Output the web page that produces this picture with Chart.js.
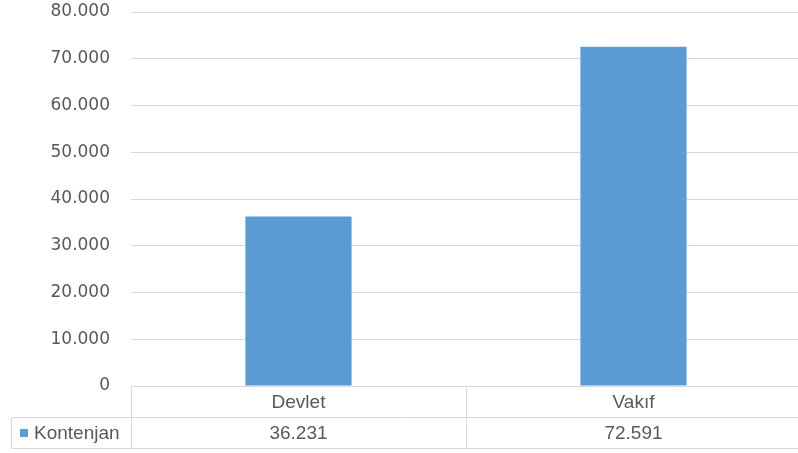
<!DOCTYPE html>
<html>
<head>
<meta charset="utf-8">
<script src="https://cdn.jsdelivr.net/npm/chart.js@4/dist/chart.umd.min.js"></script>
<style>
  html, body { margin: 0; padding: 0; background: #fff; overflow: hidden; }
  #wrap { width: 801px; height: 453px; position: relative; }
</style>
</head>
<body>
<div id="wrap"><canvas id="c"></canvas></div>
<script>
const categories = ['Devlet', 'Vakıf'];
const seriesName = 'Kontenjan';
const kontenjan = [36231, 72591];
const yTicks = [0, 10000, 20000, 30000, 40000, 50000, 60000, 70000, 80000];

const BAR_COLOR = '#5B9BD5';
const GRID_COLOR = '#D9D9D9';
const TEXT_COLOR = '#595959';

function fmt(v) {
  const s = Math.round(v).toString();
  return s.replace(/\B(?=(\d{3})+(?!\d))/g, '.');
}

const dataTablePlugin = {
  id: 'dataTable',
  afterDraw(chart) {
    const ctx = chart.ctx;
    const area = chart.chartArea;
    const xs = chart.scales.x;
    const n = categories.length;
    const colW = (area.right - area.left) / n;
    const top = Math.round(area.bottom) + 0.5;
    const mid = top + 31;
    const bot = mid + 31;
    const leftOuter = 11.5;
    const left = Math.round(area.left) + 0.5;
    const right = area.right;
    ctx.save();
    ctx.strokeStyle = GRID_COLOR;
    ctx.lineWidth = 1;
    ctx.beginPath();
    ctx.moveTo(left, top); ctx.lineTo(right, top);
    ctx.moveTo(leftOuter, mid); ctx.lineTo(right, mid);
    ctx.moveTo(leftOuter, bot); ctx.lineTo(right, bot);
    ctx.moveTo(leftOuter, mid); ctx.lineTo(leftOuter, bot);
    for (let i = 0; i <= n; i++) {
      const x = Math.round(area.left + i * colW) + 0.5;
      ctx.moveTo(x, top); ctx.lineTo(x, bot);
    }
    ctx.stroke();

    ctx.fillStyle = TEXT_COLOR;
    ctx.font = '19px "Liberation Sans", Arial, sans-serif';
    ctx.textAlign = 'center';
    ctx.textBaseline = 'middle';
    for (let i = 0; i < n; i++) {
      const cx = xs.getPixelForValue(i);
      ctx.fillText(categories[i], cx, (top + mid) / 2 + 1);
      ctx.fillText(fmt(kontenjan[i]), cx, (mid + bot) / 2 + 1);
    }
    ctx.fillStyle = BAR_COLOR;
    ctx.fillRect(20, (mid + bot) / 2 - 4, 8, 8);
    ctx.fillStyle = TEXT_COLOR;
    ctx.textAlign = 'left';
    ctx.fillText(seriesName, 34, (mid + bot) / 2 + 1);
    ctx.restore();
  }
};

Chart.defaults.font.family = '"DejaVu Sans", Verdana, sans-serif';
Chart.defaults.color = TEXT_COLOR;

new Chart(document.getElementById('c'), {
  type: 'bar',
  data: {
    labels: categories,
    datasets: [{
      label: seriesName,
      data: kontenjan,
      backgroundColor: BAR_COLOR,
      borderWidth: 0,
      categoryPercentage: 1,
      barPercentage: 0.317
    }]
  },
  options: {
    responsive: true,
    maintainAspectRatio: false,
    animation: false,
    layout: { padding: { top: 12, right: 0, bottom: 67, left: 0 } },
    plugins: {
      legend: { display: false },
      tooltip: { enabled: false }
    },
    scales: {
      x: {
        display: false,
        grid: { display: false }
      },
      y: {
        min: 0,
        max: 80000,
        afterBuildTicks(scale) { scale.ticks = yTicks.map(v => ({ value: v })); },
        afterFit(scale) { scale.width = 131; },
        border: { display: false },
        grid: { color: GRID_COLOR, lineWidth: 1, drawTicks: true, tickLength: 21, tickColor: 'rgba(0,0,0,0)' },
        ticks: {
          padding: 0,
          font: { size: 17 },
          color: TEXT_COLOR,
          callback: (v) => fmt(v)
        }
      }
    }
  },
  plugins: [dataTablePlugin]
});
</script>
</body>
</html>
